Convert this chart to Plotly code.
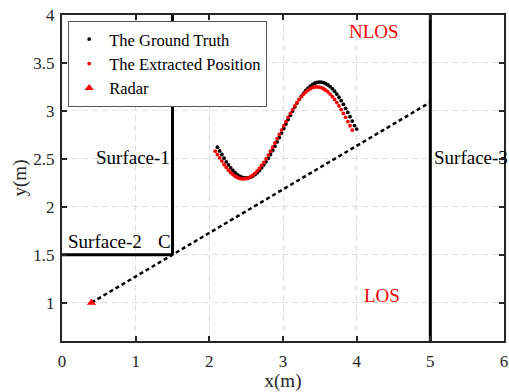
import plotly.graph_objects as go

# ---- data ----
gt_x = [2.11, 2.14, 2.17, 2.20, 2.23, 2.26, 2.29, 2.32, 2.35, 2.38, 2.41, 2.44, 2.47, 2.50,
        2.53, 2.56, 2.59, 2.62, 2.65, 2.68, 2.71, 2.74, 2.77, 2.80, 2.83, 2.86, 2.89, 2.92,
        2.95, 2.98, 3.01, 3.04, 3.07, 3.10, 3.13, 3.16, 3.19, 3.22, 3.25, 3.28, 3.31, 3.34,
        3.37, 3.40, 3.43, 3.46, 3.49, 3.52, 3.55, 3.58, 3.61, 3.64, 3.67, 3.70, 3.73, 3.76,
        3.79, 3.82, 3.85, 3.88, 3.91, 3.94, 3.97, 4.00]
gt_y = [2.621, 2.582, 2.545, 2.506, 2.469, 2.436, 2.405, 2.378, 2.355, 2.335, 2.320, 2.309,
        2.302, 2.300, 2.302, 2.309, 2.320, 2.335, 2.355, 2.378, 2.405, 2.436, 2.469, 2.506,
        2.545, 2.587, 2.631, 2.676, 2.722, 2.769, 2.816, 2.863, 2.909, 2.955, 2.999, 3.041,
        3.081, 3.119, 3.154, 3.185, 3.214, 3.238, 3.259, 3.276, 3.288, 3.296, 3.300, 3.299,
        3.294, 3.284, 3.270, 3.252, 3.230, 3.205, 3.175, 3.142, 3.106, 3.068, 3.027, 2.984,
        2.940, 2.894, 2.847, 2.810]

ex_x = [2.08, 2.11, 2.14, 2.17, 2.20, 2.23, 2.26, 2.29, 2.32, 2.35, 2.38, 2.41, 2.44, 2.47,
        2.50, 2.53, 2.56, 2.59, 2.62, 2.65, 2.68, 2.71, 2.74, 2.77, 2.80, 2.83, 2.86, 2.89,
        2.92, 2.95, 2.98, 3.01, 3.04, 3.07, 3.10, 3.13, 3.16, 3.19, 3.22, 3.25, 3.28, 3.31,
        3.34, 3.37, 3.40, 3.43, 3.46, 3.49, 3.52, 3.55, 3.58, 3.61, 3.64, 3.67, 3.70, 3.73,
        3.76, 3.79, 3.82, 3.85, 3.88, 3.91, 3.94]
ex_y = [2.580, 2.545, 2.510, 2.476, 2.441, 2.410, 2.382, 2.357, 2.336, 2.318, 2.305, 2.296,
        2.291, 2.290, 2.294, 2.302, 2.313, 2.329, 2.349, 2.373, 2.400, 2.431, 2.464, 2.500,
        2.539, 2.579, 2.622, 2.665, 2.710, 2.755, 2.800, 2.845, 2.889, 2.933, 2.974, 3.014,
        3.052, 3.087, 3.120, 3.149, 3.175, 3.198, 3.216, 3.231, 3.242, 3.248, 3.250, 3.248,
        3.242, 3.231, 3.216, 3.198, 3.175, 3.149, 3.120, 3.087, 3.052, 3.014, 2.974, 2.933,
        2.889, 2.845, 2.800]

radar_x = [0.4]
radar_y = [1.0]

surf1_x = [1.5, 1.5]
surf1_y = [1.5, 4.0]
surf2_x = [0.0, 1.5]
surf2_y = [1.5, 1.5]
surf3_x = [5.0, 5.0]
surf3_y = [0.6, 4.0]
ray_x = [0.4, 5.0]
ray_y = [1.0, 3.09]

x_ticks = [0, 1, 2, 3, 4, 5, 6]
y_ticks = [1, 1.5, 2, 2.5, 3, 3.5, 4]
y_tick_text = ["1", "1.5", "2", "2.5", "3", "3.5", "4"]

labels = [("Surface-1", 0.96, 2.51, "black"),
          ("Surface-2", 0.59, 1.64, "black"),
          ("C", 1.39, 1.64, "black"),
          ("Surface-3", 5.55, 2.51, "black"),
          ("NLOS", 4.23, 3.83, "red"),
          ("LOS", 4.35, 1.07, "red")]

FONT = "Times New Roman, Liberation Serif, serif"

fig = go.Figure()

for sx, sy in [(surf1_x, surf1_y), (surf2_x, surf2_y), (surf3_x, surf3_y)]:
    fig.add_trace(go.Scatter(x=sx, y=sy, mode="lines", line=dict(color="black", width=3),
                             showlegend=False, hoverinfo="skip"))

fig.add_trace(go.Scatter(x=ray_x, y=ray_y, mode="lines",
                         line=dict(color="black", width=2.5, dash="4px,3px"),
                         showlegend=False, hoverinfo="skip"))

fig.add_trace(go.Scatter(x=gt_x, y=gt_y, mode="markers", name="The Ground Truth",
                         marker=dict(color="black", size=3.8)))
fig.add_trace(go.Scatter(x=ex_x, y=ex_y, mode="markers", name="The Extracted Position",
                         marker=dict(color="red", size=3.8)))
fig.add_trace(go.Scatter(x=radar_x, y=radar_y, mode="markers", name="Radar",
                         marker=dict(color="red", size=8, symbol="triangle-up")))

for txt, tx, ty, col in labels:
    fig.add_annotation(x=tx, y=ty, text=txt, showarrow=False,
                       font=dict(family=FONT, size=19, color=col))

axis_common = dict(showline=True, linecolor="#262626", linewidth=2, mirror="ticks",
                   ticks="inside", ticklen=5, tickwidth=1.5, tickcolor="#262626",
                   showgrid=True, gridcolor="#dedede", griddash="6px,4px", gridwidth=1,
                   zeroline=False, automargin=False,
                   tickfont=dict(family=FONT, size=17, color="#262626"))

fig.update_xaxes(range=[0, 6], tickvals=x_ticks, ticklabelstandoff=4,
                 title=dict(text="x(m)", font=dict(family=FONT, size=19, color="#262626"),
                            standoff=8),
                 **axis_common)
fig.update_yaxes(range=[0.6, 4], tickvals=y_ticks, ticktext=y_tick_text,
                 ticklabelstandoff=2,
                 title=dict(text="y(m)", font=dict(family=FONT, size=19, color="#262626"),
                            standoff=2),
                 **axis_common)

fig.update_layout(
    width=509, height=392,
    margin=dict(l=62, r=5, t=15, b=51),
    paper_bgcolor="white", plot_bgcolor="white",
    font=dict(family=FONT, color="black"),
    legend=dict(x=0.014, y=0.982, xanchor="left", yanchor="top",
                bgcolor="white", bordercolor="#555555", borderwidth=1,
                font=dict(family=FONT, size=16.5, color="black"),
                tracegroupgap=0, itemsizing="trace"),
)

fig.write_html("out.html")
